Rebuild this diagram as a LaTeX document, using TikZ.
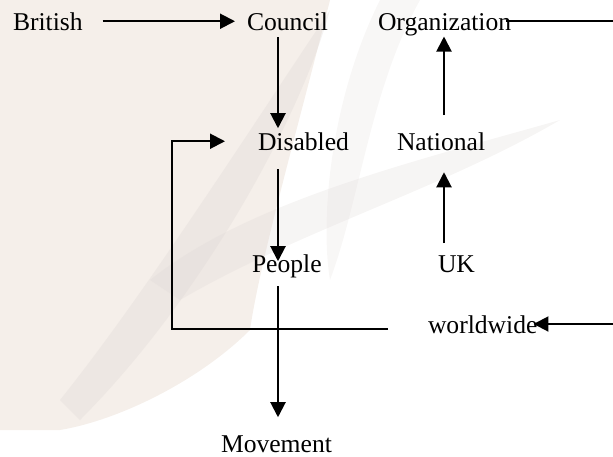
\documentclass[tikz,border=0pt]{standalone}
\usepackage{fontspec}
\setmainfont{Liberation Serif}
\usetikzlibrary{arrows.meta}
\definecolor{wmbeige}{HTML}{F5EFEA}
\definecolor{wmgray}{HTML}{DDD6D4}
\begin{document}
\begin{tikzpicture}[x=1pt,y=-1pt]
  \tikzstyle{every node}=[inner sep=0pt, outer sep=0pt, anchor=base west, font=\fontsize{25.6}{30}\selectfont]
  \tikzstyle{link}=[line width=2pt, -{Triangle[length=15pt,width=15pt]}]
  \tikzstyle{bare}=[line width=2pt]
  \useasboundingbox (0,0) rectangle (613,456);

  % faint watermark behind the words
  \fill[wmbeige] (0,0) -- (330,0) .. controls (300,120) and (260,260) .. (250,330)
    .. controls (200,380) and (120,420) .. (60,430) -- (0,430) -- cycle;
  \fill[wmgray, opacity=.3] (60,400) .. controls (140,300) and (230,160) .. (330,10)
    .. controls (300,120) and (200,300) .. (80,420) -- cycle;
  \fill[wmgray, opacity=.25] (150,280) .. controls (250,200) and (420,160) .. (560,120)
    .. controls (440,190) and (300,230) .. (180,300) -- cycle;
  \fill[wmgray, opacity=.2] (380,0) .. controls (330,100) and (320,220) .. (330,280)
    .. controls (360,200) and (370,90) .. (420,0) -- cycle;

  \node (British) at (13,30) {British};
  \node (Council) at (247,30) {Council};
  \node (Organization) at (378,30) {Organization};
  \node (Disabled) at (258,150) {Disabled};
  \node (National) at (397,150) {National};
  \node (People) at (252,272) {People};
  \node (UK) at (438,272) {UK};
  \node (worldwide) at (428,333) {worldwide};
  \node (Movement) at (221,452) {Movement};

  \coordinate (colL) at (278,0);
  \coordinate (colR) at (444,0);
  \coordinate (orgR) at (613,21);
  \coordinate (wwR) at (613,324);
  \coordinate (loopL) at (172,329);

  \draw[link, shorten <=20pt, shorten >=12pt] (British.east) -- (British.east -| Council.west);
  \draw[link, shorten <=7pt, shorten >=4pt] (Council.south -| colL) -- (Disabled.north -| colL);
  \draw[link, shorten <=19pt, shorten >=-7pt] (Disabled.south -| colL) -- (People.north -| colL);
  \draw[link, shorten <=9pt, shorten >=18pt] (People.south -| colL) -- (Movement.north -| colL);
  \draw[link, shorten <=12pt, shorten >=22pt] (UK.north -| colR) -- (National.south -| colR);
  \draw[link, shorten <=17pt, shorten >=1pt] (National.north -| colR) -- (Organization.south -| colR);
  \draw[bare, shorten <=-5pt] (Organization.east |- orgR) -- (orgR);
  \draw[link, shorten >=-4pt] (wwR) -- (worldwide.east |- wwR);
  \draw[link, shorten <=40pt, shorten >=33pt] (worldwide.west |- loopL) -- (loopL) |- (Disabled.west);
\end{tikzpicture}
\end{document}
